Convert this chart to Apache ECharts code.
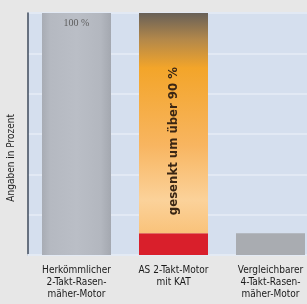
<!DOCTYPE html>
<html>
<head>
<meta charset="utf-8">
<script src="https://cdn.jsdelivr.net/npm/echarts@6/dist/echarts.min.js"></script>
<style>
  html, body { margin: 0; padding: 0; background: #e7e7e7; }
  #chart { width: 307px; height: 304px; }
</style>
</head>
<body>
<div id="chart"></div>
<script>
// Kategorien (Beschriftung der x-Achse)
var categories = ['Herkömmlicher\n2-Takt-Rasen-\nmäher-Motor', 'AS 2-Takt-Motor\nmit KAT', 'Vergleichbarer\n4-Takt-Rasen-\nmäher-Motor'];
// Emissionen in Prozent
var emissionen = [100, 9, 9];
// gesenkter Anteil (nur Mitte)
var gesenkt = ['-', 91, '-'];
var achsenName = 'Angaben in Prozent';
var pfeilText = 'gesenkt um über 90 %';

var chart = echarts.init(document.getElementById('chart'));

var grauVerlauf = new echarts.graphic.LinearGradient(0, 0, 1, 0, [
    {offset: 0, color: '#a8acb4'},
    {offset: 0.12, color: '#b5b9c1'},
    {offset: 0.5, color: '#babec6'},
    {offset: 0.85, color: '#b3b7bf'},
    {offset: 1, color: '#a4a8b0'}
]);
var orangeVerlauf = new echarts.graphic.LinearGradient(0, 0, 0, 1, [
    {offset: 0, color: '#686058'},
    {offset: 0.12, color: '#b3884a'},
    {offset: 0.25, color: '#f3a52a'},
    {offset: 0.6, color: '#f8b560'},
    {offset: 0.85, color: '#fbd29a'},
    {offset: 1, color: '#f9c27a'}
]);
var farben = [grauVerlauf, '#d91f2b', '#a9acb1'];

var option = {
    backgroundColor: '#e7e7e7',
    animation: false,
    grid: {
        left: 28,
        right: -12,
        top: 13,
        bottom: 49,
        outerBoundsMode: 'none',
        show: true,
        backgroundColor: '#d5dfee',
        borderWidth: 0
    },
    xAxis: {
        type: 'category',
        data: categories,
        axisLine: {show: true, lineStyle: {color: '#e3eaf4', width: 2}},
        axisTick: {show: false},
        axisLabel: {
            color: '#1a1a1a',
            fontFamily: 'Liberation Sans Narrow, DejaVu Sans Condensed, sans-serif',
            fontSize: 10,
            lineHeight: 12,
            margin: 9,
            interval: 0
        }
    },
    yAxis: {
        type: 'value',
        min: 0,
        max: 100,
        interval: 100 / 6,
        axisLine: {show: true, lineStyle: {color: '#3f4b5d', width: 1.5}},
        axisTick: {show: false},
        axisLabel: {show: false},
        splitLine: {lineStyle: {color: '#e2e9f4', width: 2}}
    },
    graphic: [{
        type: 'text',
        left: 6,
        top: 114,
        rotation: Math.PI / 2,
        style: {
            text: achsenName,
            fill: '#1e1e1e',
            font: '10px "Liberation Sans Narrow", "DejaVu Sans Condensed", sans-serif'
        }
    }],
    series: [
        {
            name: 'Emissionen',
            type: 'bar',
            stack: 'a',
            barWidth: 69,
            data: emissionen,
            itemStyle: {
                color: function (params) {
                    return farben[params.dataIndex];
                }
            },
            label: {
                show: true,
                position: 'insideTop',
                distance: 5,
                color: '#5e5e5e',
                fontFamily: 'Liberation Serif, serif',
                fontSize: 10,
                formatter: function (p) {
                    return p.dataIndex === 0 ? p.value + ' %' : '';
                }
            }
        },
        {
            name: 'gesenkt',
            type: 'bar',
            stack: 'a',
            barWidth: 69,
            data: gesenkt,
            itemStyle: {color: orangeVerlauf},
            label: {
                show: true,
                position: 'inside',
                rotate: 90,
                offset: [-18, 0],
                color: '#3a2614',
                fontWeight: 'bold',
                fontFamily: 'DejaVu Sans Condensed, DejaVu Sans, sans-serif',
                fontSize: 13,
                formatter: pfeilText
            }
        }
    ]
};
chart.setOption(option);
</script>
</body>
</html>
